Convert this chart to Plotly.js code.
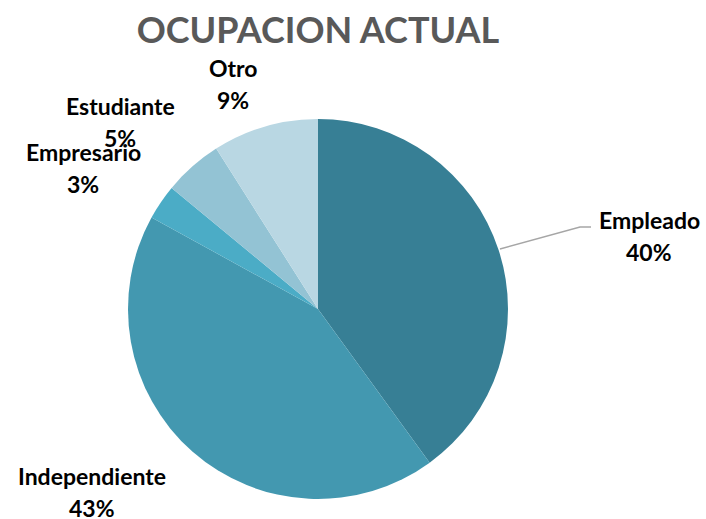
<!DOCTYPE html>
<html>
<head>
<meta charset="utf-8">
<script src="https://cdn.plot.ly/plotly-3.0.1.min.js"></script>
<style>html,body{margin:0;padding:0;background:#fff;}#chart{width:706px;height:519px;}</style>
</head>
<body>
<div id="chart"></div>
<script>
const categories = ["Empleado", "Independiente", "Empresario", "Estudiante", "Otro"];
const values = [40, 43, 3, 5, 9];
const colors = ["#377F95", "#4398B0", "#4BACC6", "#93C3D4", "#B9D7E3"];
const chartTitle = "OCUPACION ACTUAL";

const W = 706, H = 519;
const px = x => x / W;
const py = y => 1 - y / H;

// label anchor (pixel centers of first line)
const labelPos = {
  "Empleado": [649, 220],
  "Independiente": [92, 476],
  "Empresario": [83, 152],
  "Estudiante": [120, 106],
  "Otro": [233, 68]
};
const lineGap = 32;
const total = values.reduce((a, b) => a + b, 0);
const labelFont = {family: "Lato, 'Open Sans', sans-serif", size: 23, color: "#000"};

const annotations = [];
categories.forEach((c, i) => {
  const [x, y] = labelPos[c];
  const pct = Math.round(values[i] / total * 100) + "%";
  annotations.push({xref: "paper", yref: "paper", x: px(x), y: py(y), text: "<b>" + c + "</b>",
    showarrow: false, xanchor: "center", yanchor: "middle", font: labelFont});
  annotations.push({xref: "paper", yref: "paper", x: px(x), y: py(y + lineGap), text: "<b>" + pct + "</b>",
    showarrow: false, xanchor: "center", yanchor: "middle", font: labelFont});
});

const data = [{
  type: "pie",
  labels: categories,
  values: values,
  sort: false,
  direction: "clockwise",
  rotation: 0,
  textinfo: "none",
  hoverinfo: "label+percent",
  marker: {colors: colors, line: {width: 0}},
  domain: {x: [px(128), px(508)], y: [py(499), py(119)]},
  showlegend: false
}];

const layout = {
  width: W, height: H,
  margin: {l: 0, r: 0, t: 0, b: 0},
  paper_bgcolor: "#fff",
  title: {text: "<b>" + chartTitle + "</b>", x: px(318), xanchor: "center", y: py(30), yanchor: "middle",
    font: {family: "Lato, 'Open Sans', sans-serif", size: 36, color: "#595959"}},
  annotations: annotations,
  shapes: [{
    type: "path", xref: "paper", yref: "paper",
    path: `M ${px(500)} ${py(249)} L ${px(580)} ${py(227)} L ${px(591)} ${py(227)}`,
    line: {color: "#A6A6A6", width: 1.5}
  }]
};

Plotly.newPlot("chart", data, layout, {displayModeBar: false, staticPlot: true});
</script>
</body>
</html>
